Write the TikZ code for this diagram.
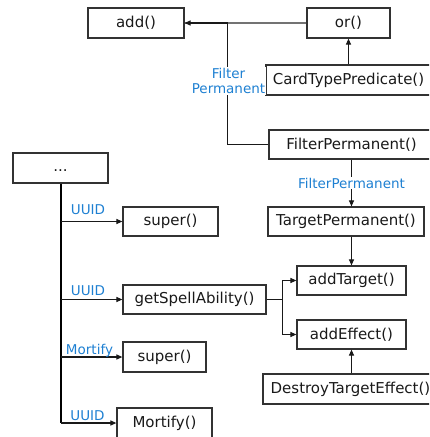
\documentclass[tikz,border=0pt]{standalone}
\usepackage{fontspec}
\setmainfont{DejaVu Sans}
\usetikzlibrary{arrows.meta}
\definecolor{lblblue}{RGB}{30,128,210}
\definecolor{boxline}{RGB}{50,50,50}
\tikzset{
  box/.style={draw=boxline, line width=1.2pt, inner sep=0pt, font=\fontsize{15}{18}\selectfont, text=black!90},
  lbl/.style={text=lblblue, font=\fontsize{13.5}{15}\selectfont, inner sep=1pt, align=center},
  conn/.style={line width=1.1pt, draw=black!90, -{Triangle[length=6pt,width=5pt]}},
  grayconn/.style={line width=1.4pt, draw=black!55},
  plain/.style={line width=1.1pt, draw=black!90},
  trunk/.style={line width=2pt, draw=black}
}
\begin{document}
\begin{tikzpicture}[x=1pt,y=-1pt]
\useasboundingbox (0,0) rectangle (429,437);
\clip (0,0) rectangle (429,437);
% boxes
\node[box, minimum width=96pt, minimum height=30pt] (add) at (136,23) {add()};
\node[box, minimum width=83pt, minimum height=30pt] (or) at (348.5,23) {or()};
\node[box, minimum width=165pt, minimum height=30pt] (ct) at (348.5,80) {CardTypePredicate()};
\node[box, minimum width=165pt, minimum height=29pt] (fp) at (351.5,144.5) {FilterPermanent()};
\node[box, minimum width=156pt, minimum height=29pt] (tp) at (346,221.5) {TargetPermanent()};
\node[box, minimum width=95pt, minimum height=30pt] (dots) at (60.5,168) {\strut...};
\node[box, minimum width=95pt, minimum height=29pt] (s1) at (170.5,221.5) {super()};
\node[box, minimum width=109pt, minimum height=29pt] (at) at (351.5,280.5) {addTarget()};
\node[box, minimum width=143pt, minimum height=29pt] (gsa) at (194.5,299.5) {getSpellAbility()};
\node[box, minimum width=109pt, minimum height=29pt] (ae) at (351.5,334.5) {addEffect()};
\node[box, minimum width=83pt, minimum height=30pt] (s2) at (164.5,357) {super()};
\node[box, minimum width=175pt, minimum height=30pt] (dte) at (350.5,389) {DestroyTargetEffect()};
\node[box, minimum width=95pt, minimum height=30pt] (mo) at (164.5,423) {Mortify()};
% top connectors
\draw[grayconn] (or.west) -- (add.east);
\draw[conn] (fp.west) -- ++(-41,0) |- (add.east);
\node[lbl, fill=white] (lfp) at (228.5,81) {Filter\\Permanent};
\draw[conn] (ct.north) -- (or.south);
\draw[conn] (fp.south) -- (fp.south |- tp.north);
\node[lbl, fill=white] (lfp2) at (351.5,183) {FilterPermanent};
\draw[conn] (at.north |- tp.south) -- (at.north);
\draw[conn] (ae.south |- dte.north) -- (ae.south);
\draw[plain] (gsa.east) -- ++(16,0) coordinate (gj);
\draw[conn] (gj) |- (at.west);
\draw[conn] (gj) |- (ae.west);
% left trunk
\coordinate (tend) at (60.5,423);
\draw[trunk] (dots.south) -- (tend);
\draw[conn] (dots.south |- s1.west) -- (s1.west);
\draw[conn] (dots.south |- gsa.west) -- (gsa.west);
\draw[conn] (dots.south |- s2.west) -- (s2.west);
\draw[conn] (tend) -- (mo.west);
\node[lbl] (u1) at (88,210) {UUID};
\node[lbl] (u2) at (88,291) {UUID};
\node[lbl] (m1) at (89.5,351) {Mortify};
\node[lbl] (u3) at (87.5,416) {UUID};
\end{tikzpicture}
\end{document}
